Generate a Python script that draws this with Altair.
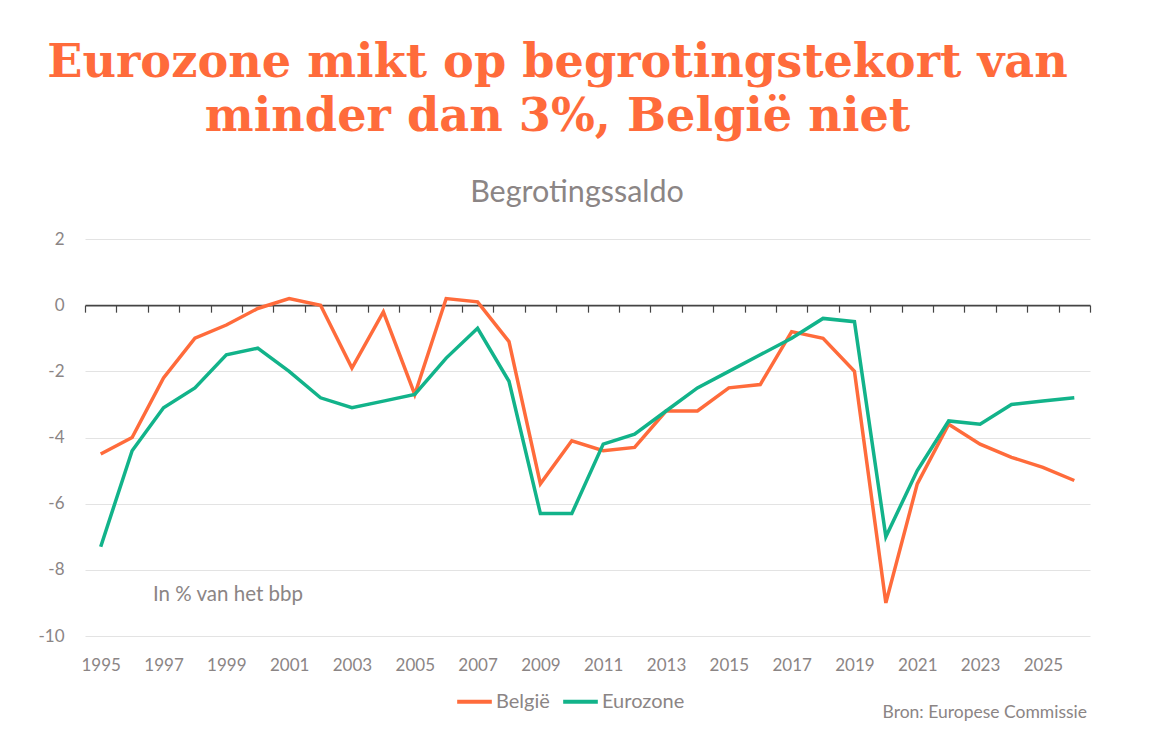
import altair as alt
import pandas as pd

# ---- data ----
years = list(range(1995, 2027))
belgie = [-4.5, -4.0, -2.2, -1.0, -0.6, -0.1, 0.2, 0.0, -1.9, -0.2, -2.7, 0.2, 0.1, -1.1,
          -5.4, -4.1, -4.4, -4.3, -3.2, -3.2, -2.5, -2.4, -0.8, -1.0, -2.0, -9.0, -5.4,
          -3.6, -4.2, -4.6, -4.9, -5.3]
eurozone = [-7.3, -4.4, -3.1, -2.5, -1.5, -1.3, -2.0, -2.8, -3.1, -2.9, -2.7, -1.6, -0.7, -2.3,
            -6.3, -6.3, -4.2, -3.9, -3.2, -2.5, -2.0, -1.5, -1.0, -0.4, -0.5, -7.0, -5.0,
            -3.5, -3.6, -3.0, -2.9, -2.8]
series_names = ["België", "Eurozone"]
series_colors = ["#ff6b3b", "#12b38a"]
y_ticks = [-10, -8, -6, -4, -2, 0, 2]
title_lines = ["Eurozone mikt op begrotingstekort van", "minder dan 3%, België niet"]
subtitle_text = "Begrotingssaldo"
unit_text = "In % van het bbp"
source_text = "Bron: Europese Commissie"

df = pd.DataFrame({
    "jaar": years + years,
    "saldo": belgie + eurozone,
    "reeks": [series_names[0]] * len(years) + [series_names[1]] * len(years),
})

GREY = "#8b8585"
FONT = "Lato"
W, H = 1005, 397
zero_offset = -(H * 10 / 12)

lines = alt.Chart(df).mark_line(strokeWidth=3.5).encode(
    x=alt.X(
        "jaar:O",
        bandPosition=0.5,
        scale=alt.Scale(type="band", paddingInner=0, paddingOuter=0),
        axis=alt.Axis(
            title=None, offset=zero_offset, tickBand="extent", tickSize=7,
            tickColor="#444444", tickWidth=1.2, domainColor="#444444", domainWidth=1.6,
            labelPadding=345, labelAngle=0, labelFont=FONT, labelFontSize=17,
            labelColor=GREY, labelOverlap=False, grid=False,
            labelExpr="datum.value % 2 == 1 ? '' + datum.value : ''",
        ),
    ),
    y=alt.Y(
        "saldo:Q",
        scale=alt.Scale(domain=[-10, 2], nice=False, zero=False),
        axis=alt.Axis(
            title=None, values=y_ticks, domain=False, ticks=False, grid=True,
            gridColor={"condition": {"test": "datum.value === 0", "value": "transparent"},
                       "value": "#e3e3e3"},
            labelPadding=21, labelFont=FONT, labelFontSize=17, labelColor=GREY,
            labelExpr="'' + datum.value",
        ),
    ),
    color=alt.Color(
        "reeks:N",
        scale=alt.Scale(domain=series_names, range=series_colors),
        legend=alt.Legend(
            title=None, orient="none", legendX=370, legendY=443, direction="horizontal",
            symbolType="stroke", symbolSize=1200, symbolStrokeWidth=4,
            labelFont=FONT, labelFontSize=20, labelColor=GREY, columnPadding=5,
            labelOffset=2, padding=0,
        ),
    ),
)


def text_layer(txt, x, y, size, align):
    return alt.Chart(pd.DataFrame({"t": [txt]})).mark_text(
        align=align, baseline="alphabetic", font=FONT, fontSize=size, color=GREY
    ).encode(x=alt.value(x), y=alt.value(y), text="t:N")


subtitle = text_layer(subtitle_text, 492, -37, 30.5, "center")
unit = text_layer(unit_text, 68, 362, 20.5, "left")
source = text_layer(source_text, 1002, 479, 17.5, "right")

chart = alt.layer(lines, subtitle, unit, source).properties(
    width=W,
    height=H,
    autosize=alt.AutoSizeParams(type="none"),
    padding={"left": 77, "top": 231, "right": 59, "bottom": 90},
    title=alt.TitleParams(
        text=title_lines, anchor="middle", dx=-30, offset=37,
        font="DejaVu Serif", fontWeight="bold", fontSize=46.2,
        color="#ff6b3b", lineHeight=53.5,
    ),
).configure_view(stroke=None)

chart.save("out.html", embed_options={"renderer": "svg", "actions": False})
